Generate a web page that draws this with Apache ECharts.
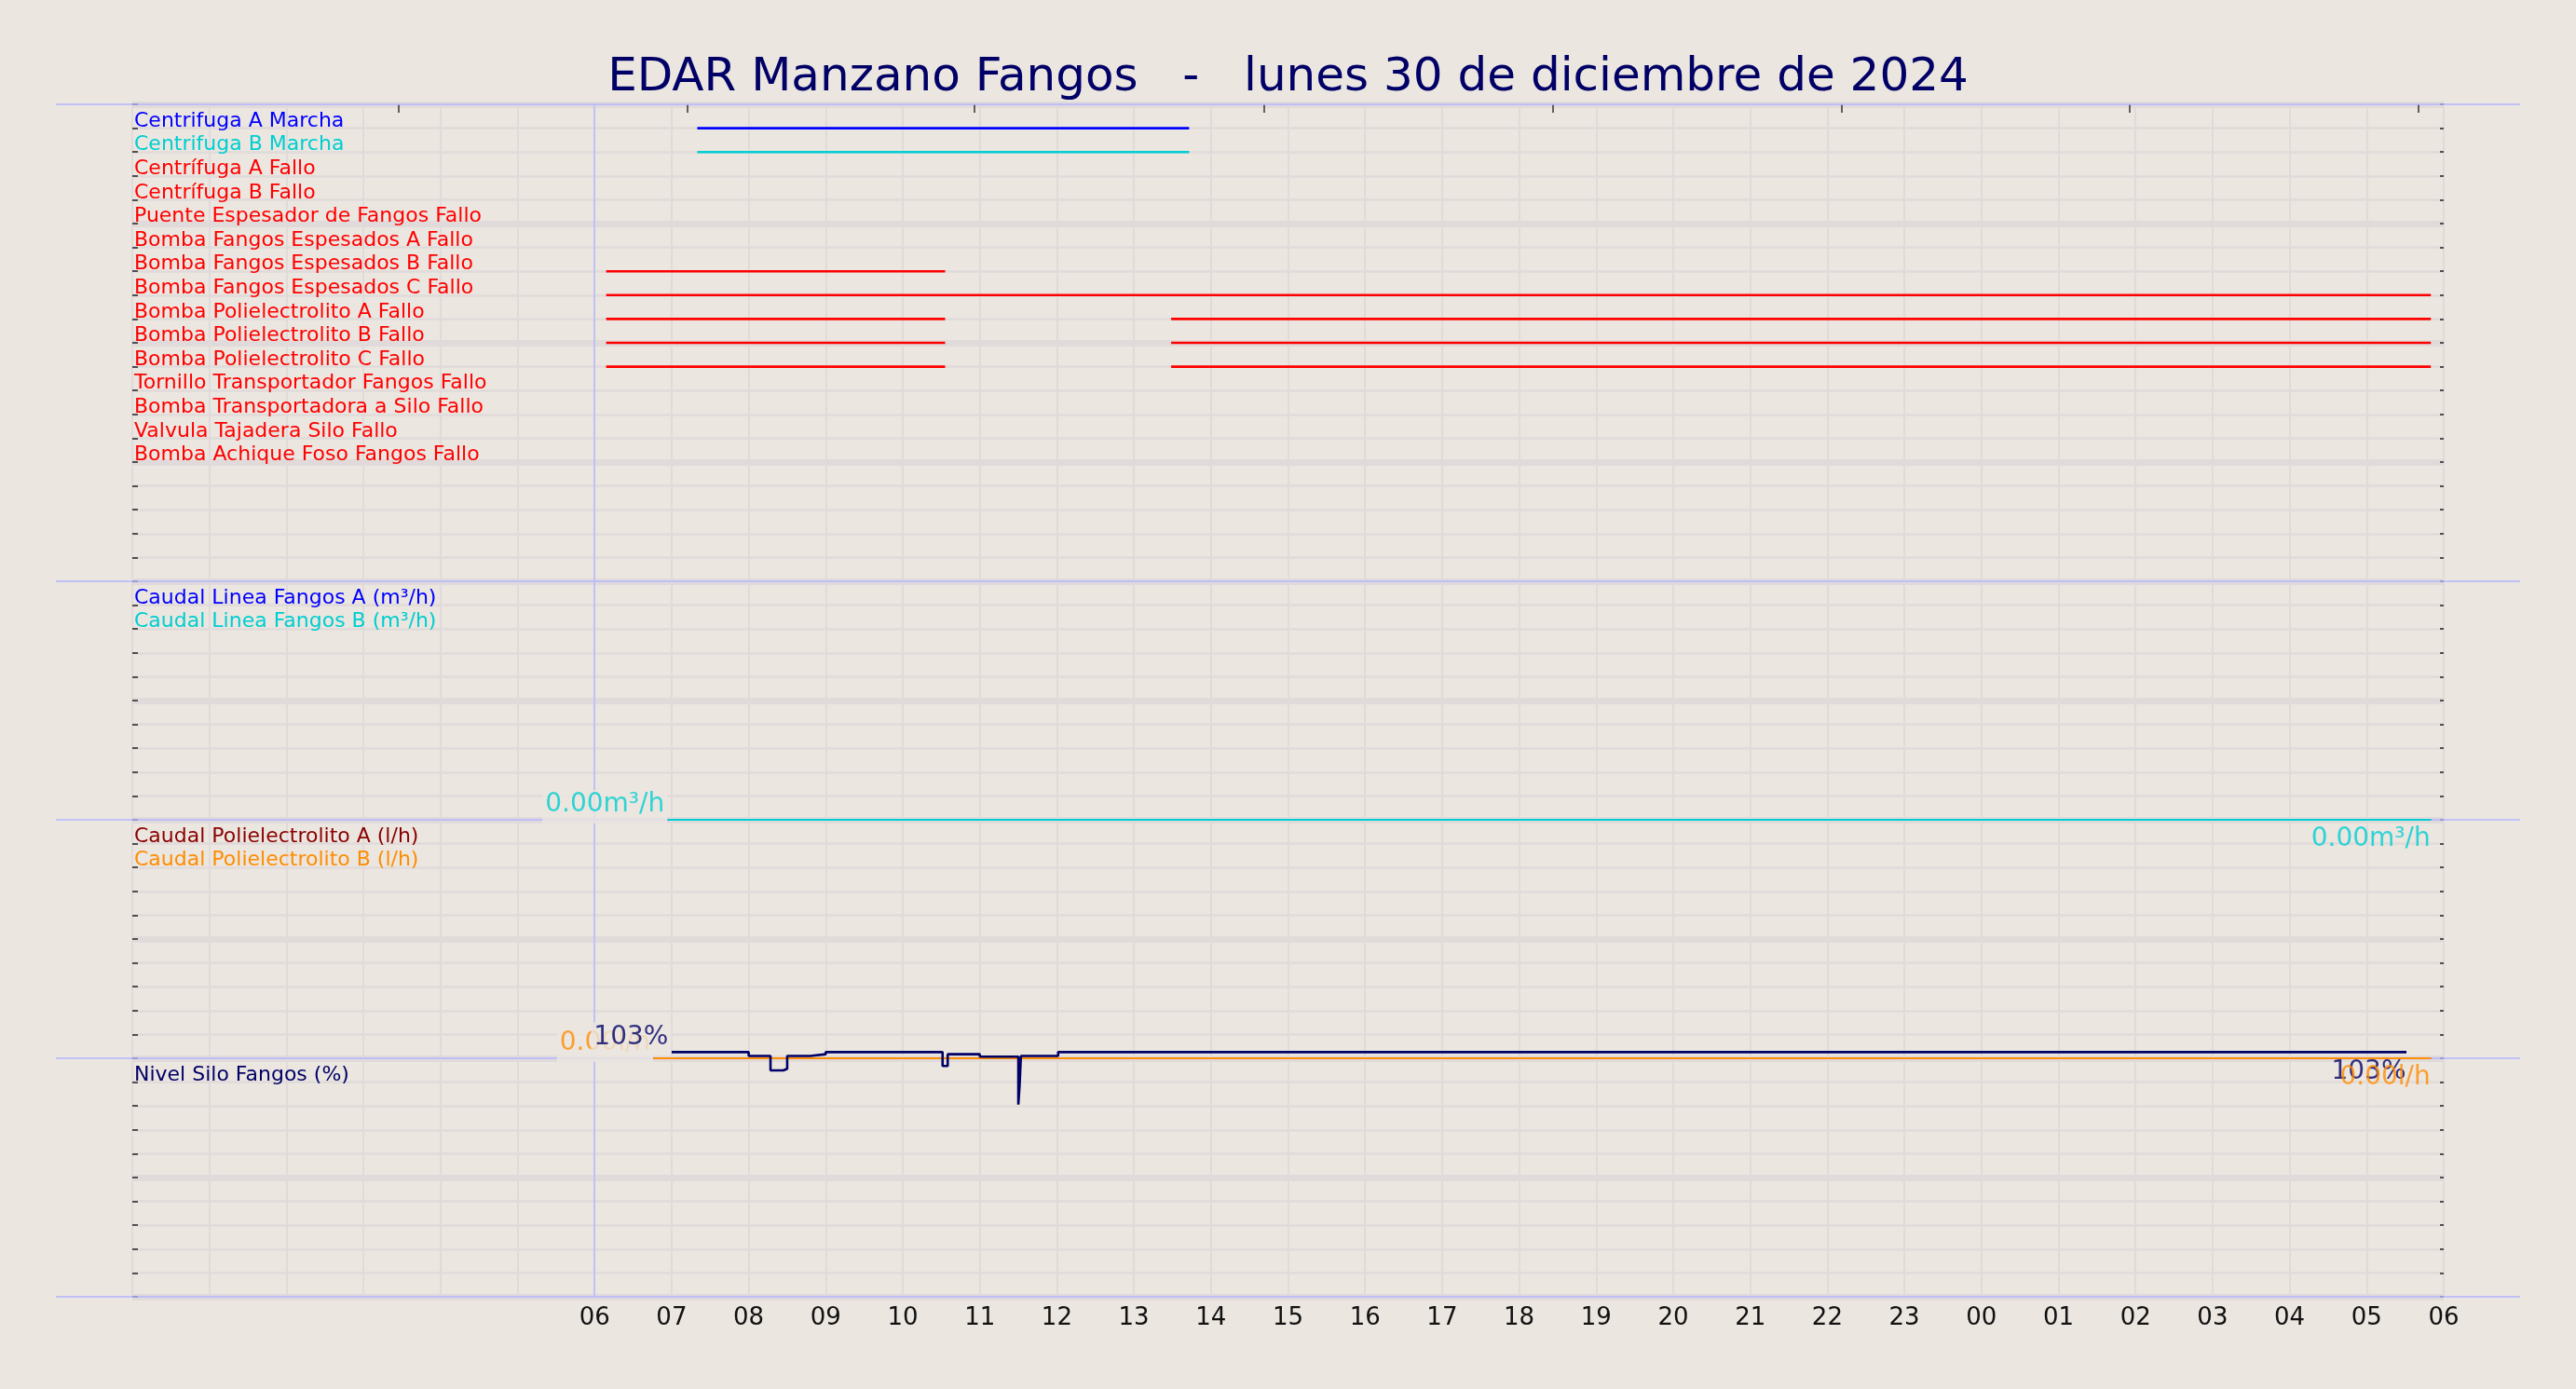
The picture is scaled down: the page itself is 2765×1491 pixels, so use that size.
<!DOCTYPE html>
<html>
<head>
<meta charset="utf-8">
<script src="https://cdn.jsdelivr.net/npm/echarts@6/dist/echarts.min.js"></script>
<style>
html,body{margin:0;padding:0;background:#ebe6e0;}
#c{width:2765px;height:1491px;}
</style>
</head>
<body>
<div id="c"></div>
<script>
// ---------------- DATA ----------------
const titleText = 'EDAR Manzano Fangos   -   lunes 30 de diciembre de 2024';
const refTime = '2024-12-30 06:00';

// bottom axis tick labels (hours shown from 06 to 06 next day)
const xLabels = ['06','07','08','09','10','11','12','13','14','15','16','17','18','19','20','21','22','23','00','01','02','03','04','05','06'];
const xLabelStart = 6;
// unlabeled ticks along the top edge
const topTicks = ['2024-12-30 03:27','2024-12-30 07:12','2024-12-30 10:56','2024-12-30 14:41','2024-12-30 18:26','2024-12-30 22:11','2024-12-31 01:55','2024-12-31 05:40'];

// digital signals (panel 1)
const signalNames = [
  'Centrifuga A Marcha','Centrifuga B Marcha','Centrífuga A Fallo','Centrífuga B Fallo',
  'Puente Espesador de Fangos Fallo','Bomba Fangos Espesados A Fallo','Bomba Fangos Espesados B Fallo',
  'Bomba Fangos Espesados C Fallo','Bomba Polielectrolito A Fallo','Bomba Polielectrolito B Fallo',
  'Bomba Polielectrolito C Fallo','Tornillo Transportador Fangos Fallo','Bomba Transportadora a Silo Fallo',
  'Valvula Tajadera Silo Fallo','Bomba Achique Foso Fangos Fallo'
];
const signalColors = ['#0000ff','#00ced1','#ff0000','#ff0000','#ff0000','#ff0000','#ff0000','#ff0000','#ff0000','#ff0000','#ff0000','#ff0000','#ff0000','#ff0000','#ff0000'];
const signalOn = [
  [['2024-12-30 07:20','2024-12-30 13:43']],
  [['2024-12-30 07:20','2024-12-30 13:43']],
  [],
  [],
  [],
  [],
  [['2024-12-30 06:09','2024-12-30 10:33']],
  [['2024-12-30 06:09','2024-12-31 05:50']],
  [['2024-12-30 06:09','2024-12-30 10:33'],['2024-12-30 13:29','2024-12-31 05:50']],
  [['2024-12-30 06:09','2024-12-30 10:33'],['2024-12-30 13:29','2024-12-31 05:50']],
  [['2024-12-30 06:09','2024-12-30 10:33'],['2024-12-30 13:29','2024-12-31 05:50']],
  [],
  [],
  [],
  []
];

// flows (panel 2)
const flowNames = ['Caudal Linea Fangos A (m³/h)','Caudal Linea Fangos B (m³/h)'];
const flowColors = ['#0000ff','#00ced1'];
const flowA = [['2024-12-30 06:57',0],['2024-12-31 05:50',0]];
const flowB = [['2024-12-30 06:57',0],['2024-12-31 05:50',0]];

// polyelectrolyte flows (panel 3)
const polyNames = ['Caudal Polielectrolito A (l/h)','Caudal Polielectrolito B (l/h)'];
const polyColors = ['#8b0000','#ff8c00'];
const polyA = [['2024-12-30 06:46',0],['2024-12-31 05:50',0]];
const polyB = [['2024-12-30 06:46',0],['2024-12-31 05:50',0]];

// silo level (panel 4), value holds from each time
const levelNames = ['Nivel Silo Fangos (%)'];
const levelColors = ['#000066'];
const level = [
  ['2024-12-30 07:00',102.6],
  ['2024-12-30 08:00',101.0],
  ['2024-12-30 08:17',94.9],
  ['2024-12-30 08:27',95.6],
  ['2024-12-30 08:30',101.0],
  ['2024-12-30 08:48',101.7],
  ['2024-12-30 09:00',102.6],
  ['2024-12-30 10:31',96.8],
  ['2024-12-30 10:35',101.7],
  ['2024-12-30 11:00',100.7],
  ['2024-12-30 11:30',80.6],
  ['2024-12-30 11:31',88.7],
  ['2024-12-30 11:32',101.0],
  ['2024-12-30 12:01',102.6],
  ['2024-12-31 05:31',102.6]
];

// ---------------- STYLE / LAYOUT ----------------
const BG = '#ebe6e0';
const GRIDC = '#e0dbda';
const SEP = '#b4b4ff';
const FONT = 'DejaVu Sans';
const layout = { left: 142, right: 142, tops: [112, 624, 880, 1136], heights: [512, 256, 256, 256], sepX1: 60, sepX2: 2705 };
const yDefs = [
  { min: 0, max: 20, unit: 1, major: 5, inverse: true },
  { min: 0, max: 10, unit: 1, major: 5, inverse: false },
  { min: 0, max: 10, unit: 1, major: 5, inverse: false },
  { min: 0, max: 100, unit: 10, major: 50, inverse: false }
];

function toH(s) {
  const parts = s.split(' ');
  const day = Number(parts[0].split('-')[2]);
  const hm = parts[1].split(':').map(Number);
  return (day - 30) * 24 + hm[0] + hm[1] / 60;
}

const panelLabels = [
  { names: signalNames, colors: signalColors, values: signalNames.map((_, i) => i + 1) },
  { names: flowNames, colors: flowColors, values: flowNames.map((_, i) => yDefs[1].max - (i + 1) * yDefs[1].unit) },
  { names: polyNames, colors: polyColors, values: polyNames.map((_, i) => yDefs[2].max - (i + 1) * yDefs[2].unit) },
  { names: levelNames, colors: levelColors, values: levelNames.map((_, i) => yDefs[3].max - (i + 1) * yDefs[3].unit) }
];

const grids = layout.tops.map((t, i) => ({
  left: layout.left, right: layout.right, top: t, height: layout.heights[i],
  outerBoundsMode: 'none', containLabel: false, show: false
}));

const noLine = { show: false, onZero: false };

const xAxes = layout.tops.map((t, i) => ({
  gridIndex: i, type: 'value', min: 0, max: 30, interval: 1, position: 'bottom',
  axisLine: noLine, axisTick: { show: false },
  splitLine: { show: true, lineStyle: { color: GRIDC, width: 2 } },
  axisLabel: i === 3 ? {
    show: true, customValues: xLabels.map((_, k) => xLabelStart + k),
    formatter: v => xLabels[Math.round(v) - xLabelStart],
    color: '#111', fontSize: 26, lineHeight: 26, fontFamily: FONT, margin: 10
  } : { show: false }
}));
xAxes.push({
  gridIndex: 0, type: 'value', position: 'top', min: 0, max: 30,
  axisLine: noLine, axisLabel: { show: false }, splitLine: { show: false },
  axisTick: { show: true, inside: true, length: 9, customValues: topTicks.map(toH), lineStyle: { color: '#333', width: 1.5 } }
});

const yAxes = [];
yDefs.forEach((d, i) => {
  const pl = panelLabels[i];
  const nameOf = {}; const colOf = {};
  pl.values.forEach((v, k) => { nameOf[v] = pl.names[k]; colOf[v] = pl.colors[k]; });
  yAxes.push({
    gridIndex: i, type: 'value', position: 'left', min: d.min, max: d.max, interval: d.unit, inverse: d.inverse,
    axisLine: noLine,
    axisTick: { show: true, inside: true, length: 6, lineStyle: { color: '#222', width: 1.5 } },
    splitLine: { show: true, lineStyle: { color: GRIDC, width: 2.5 } },
    axisLabel: {
      show: true, inside: true, customValues: pl.values,
      formatter: v => nameOf[Number(v)] || '',
      color: v => colOf[Number(v)] || '#000',
      fontSize: 22, lineHeight: 15, fontFamily: FONT, verticalAlign: 'bottom', align: 'left', margin: 2
    }
  });
  yAxes.push({
    gridIndex: i, type: 'value', position: 'right', min: d.min, max: d.max, interval: d.unit, inverse: d.inverse,
    axisLine: noLine, axisLabel: { show: false }, splitLine: { show: false },
    axisTick: { show: true, inside: true, length: 4, lineStyle: { color: '#222', width: 1.5 } }
  });
  yAxes.push({
    gridIndex: i, type: 'value', position: 'right', min: d.min, max: d.max, interval: d.major, inverse: d.inverse,
    axisLine: noLine, axisLabel: { show: false }, axisTick: { show: false },
    splitLine: { show: true, lineStyle: { color: GRIDC, width: 7 } }
  });
});

const refMark = {
  silent: true, symbol: ['none', 'none'], animation: false,
  label: { show: false },
  lineStyle: { color: '#b8b8ff', width: 1.5, type: 'solid' },
  data: [{ xAxis: toH(refTime) }]
};

const series = [];
signalOn.forEach((segs, i) => {
  const row = panelLabels[0].values[i];
  const data = [];
  segs.forEach(sg => {
    data.push([toH(sg[0]), row]);
    data.push([toH(sg[1]), row]);
    data.push([toH(sg[1]), '-']);
  });
  const s = {
    type: 'line', name: signalNames[i], xAxisIndex: 0, yAxisIndex: 0, data: data,
    showSymbol: false, symbol: 'none', silent: true, animation: false, connectNulls: false,
    lineStyle: { color: signalColors[i], width: 2.6 }, itemStyle: { color: signalColors[i] }, z: 3
  };
  if (i === 0) s.markLine = refMark;
  series.push(s);
});

function lineSeries(arr, xi, yi, color, width, extra) {
  return Object.assign({
    type: 'line', xAxisIndex: xi, yAxisIndex: yi,
    data: arr.map(p => [toH(p[0]), p[1]]),
    showSymbol: false, symbol: 'none', silent: true, animation: false,
    lineStyle: { color: color, width: width }, itemStyle: { color: color }, z: 3
  }, extra || {});
}
function labelSeries(p, xi, yi, color, fmt, atStart, z) {
  return {
    type: 'scatter', xAxisIndex: xi, yAxisIndex: yi, data: [[toH(p[0]), p[1]]],
    symbolSize: 1, itemStyle: { color: 'rgba(0,0,0,0)' }, silent: true, animation: false, clip: false, z: z,
    label: Object.assign({
      show: true, position: 'left', distance: 0, align: 'right',
      formatter: q => fmt(q.value[1]), color: color,
      fontSize: 28, lineHeight: 28, fontFamily: FONT
    }, atStart ? {
      verticalAlign: 'bottom', offset: [0, 4], backgroundColor: BG, padding: [2, 3, 6, 3]
    } : {
      verticalAlign: 'top', offset: [0, 7], padding: 0
    })
  };
}
const fmtFlow = v => v.toFixed(2) + 'm³/h';
const fmtPoly = v => v.toFixed(2) + 'l/h';
const fmtLevel = v => Math.round(v) + '%';

series.push(lineSeries(flowA, 1, 3, flowColors[0], 2, { markLine: refMark }));
series.push(lineSeries(flowB, 1, 3, flowColors[1], 2));
series.push(lineSeries(polyA, 2, 6, polyColors[0], 2, { markLine: refMark }));
series.push(lineSeries(polyB, 2, 6, polyColors[1], 2));
series.push(lineSeries(level, 3, 9, levelColors[0], 2.6, { step: 'end', clip: false, markLine: refMark }));

// value labels (the B series sits on top of A and is the one that shows)
series.push(labelSeries(flowB[0], 1, 3, flowColors[1], fmtFlow, true, 6));
series.push(labelSeries(flowB[flowB.length - 1], 1, 3, flowColors[1], fmtFlow, false, 6));
series.push(labelSeries(polyB[0], 2, 6, polyColors[1], fmtPoly, true, 6));
series.push(labelSeries(level[0], 3, 9, levelColors[0], fmtLevel, true, 7));
series.push(labelSeries(level[level.length - 1], 3, 9, levelColors[0], fmtLevel, false, 7));
series.push(labelSeries(polyB[polyB.length - 1], 2, 6, polyColors[1], fmtPoly, false, 8));

const sepYs = layout.tops.concat([layout.tops[3] + layout.heights[3]]);

const option = {
  backgroundColor: BG,
  animation: false,
  textStyle: { fontFamily: FONT },
  title: {
    text: titleText, left: 'center', top: 54,
    textStyle: { color: '#000066', fontSize: 50, lineHeight: 50, fontWeight: 'normal', fontFamily: FONT }
  },
  grid: grids,
  xAxis: xAxes,
  yAxis: yAxes,
  series: series,
  graphic: {
    elements: sepYs.map(y => ({
      type: 'line', z: 1, silent: true,
      shape: { x1: layout.sepX1, y1: y, x2: layout.sepX2, y2: y },
      style: { stroke: SEP, lineWidth: 1.5 }
    }))
  }
};

const chart = echarts.init(document.getElementById('c'), null, { renderer: 'canvas' });
chart.setOption(option);
</script>
</body>
</html>
